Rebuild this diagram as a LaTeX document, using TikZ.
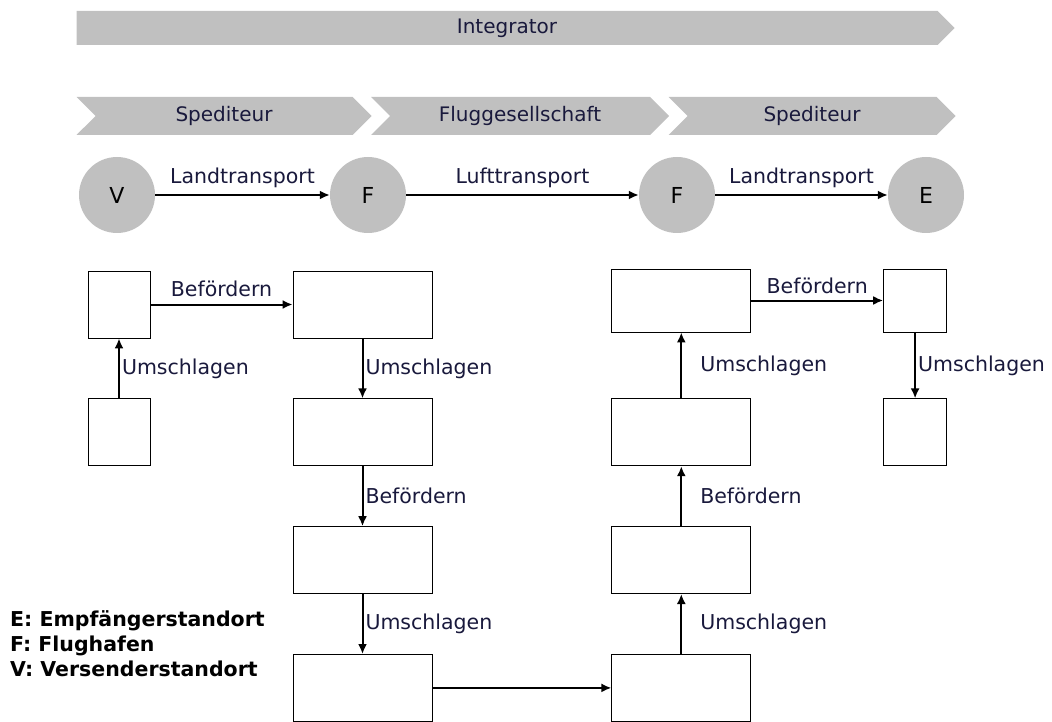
\documentclass[tikz,border=0pt]{standalone}
\usepackage{fontspec}
\setmainfont{DejaVu Sans}
\usetikzlibrary{positioning,shapes.symbols,arrows.meta}
\definecolor{bandgray}{RGB}{192,192,192}
\definecolor{labelcol}{RGB}{25,25,60}

\begin{document}
\begin{tikzpicture}[x=1pt, y=-1pt,
	band/.style   = {signal, signal to=east, fill=bandgray, minimum height=34pt, inner sep=0pt,
	                 font=\fontsize{20}{24}\selectfont, text=labelcol},
	stage/.style  = {band, signal from=west, minimum height=38pt},
	site/.style   = {circle, fill=bandgray, minimum size=76pt, inner sep=0pt, font=\fontsize{22}{26}\selectfont},
	box/.style    = {draw, line width=0.8pt, minimum height=67pt, inner sep=0pt},
	wide/.style   = {box, minimum width=139pt},
	narrow/.style = {box, minimum width=62pt},
	flow/.style   = {->, line width=2pt},
	lab/.style    = {font=\fontsize{20.5}{24}\selectfont, text=labelcol, inner sep=2pt},
	>={Latex[length=10pt,width=9pt]}]
	\useasboundingbox (0,0) rectangle (1052,722);
	
	% the bands on top
	\node[band, minimum width=878pt] (integ) at (507,28) {Integrator};
	\node[stage, minimum width=295pt] (sped1) at (224,116) {Spediteur};
	\node[stage, minimum width=298pt] (flug) at (520,116) {Fluggesellschaft};
	\node[stage, minimum width=287pt] (sped2) at (812,116) {Spediteur};
	
	% sites and transports
	\node[site] (v) at (117,195) {V};
	\node[site] (f1) at (368,195) {F};
	\node[site] (f2) at (677,195) {F};
	\node[site] (e) at (926,195) {E};
	\draw[flow] (v) -- node[lab, above=4pt] {Landtransport} (f1);
	\draw[flow] (f1) -- node[lab, above=4pt] {Lufttransport} (f2);
	\draw[flow] (f2) -- node[lab, above=4pt] {Landtransport} (e);
	
	% the process chain, relatively positioned boxes
	\node[narrow] (b1) at (119,304.5) {};
	\node[narrow, below=60pt of b1] (b2) {};
	\node[wide] (b3) at (362.5,304.5) {};
	\node[wide, below=60pt of b3] (b4) {};
	\node[wide, below=60pt of b4] (b5) {};
	\node[wide, below=60pt of b5] (b6) {};
	\node[wide, right=179pt of b6] (b7) {};
	\node[wide, above=60pt of b7] (b8) {};
	\node[wide, above=60pt of b8] (b9) {};
	\node[wide, minimum height=63pt, above=66pt of b9] (b10) {};
	\node[narrow, minimum height=63pt, minimum width=63pt, right=132pt of b10] (b11) {};
	\node[narrow, minimum width=63pt, below=66pt of b11] (b12) {};
	
	\draw[flow] (b2) -- node[lab, right] {Umschlagen} (b1);
	\draw[flow] (b1) -- node[lab, above=5pt] {Befördern} (b3);
	\draw[flow] (b3) -- node[lab, right] {Umschlagen} (b4);
	\draw[flow] (b4) -- node[lab, right] {Befördern} (b5);
	\draw[flow] (b5) -- node[lab, right] {Umschlagen} (b6);
	\draw[flow] (b6) -- (b7);
	\draw[flow] (b7) -- node[lab, right, xshift=16pt] {Umschlagen} (b8);
	\draw[flow] (b8) -- node[lab, right, xshift=16pt] {Befördern} (b9);
	\draw[flow] (b9) -- node[lab, right, xshift=16pt] {Umschlagen} (b10);
	\draw[flow] (b10) -- node[lab, above=4pt] {Befördern} (b11);
	\draw[flow] (b11) -- node[lab, right] {Umschlagen} (b12);
	
	% legend
	\node[anchor=north west, align=left, inner sep=0pt, font=\bfseries\fontsize{20.5}{25}\selectfont]
		(legend) at (10,610) {E: Empfängerstandort\\F: Flughafen\\V: Versenderstandort};
\end{tikzpicture}
\end{document}
